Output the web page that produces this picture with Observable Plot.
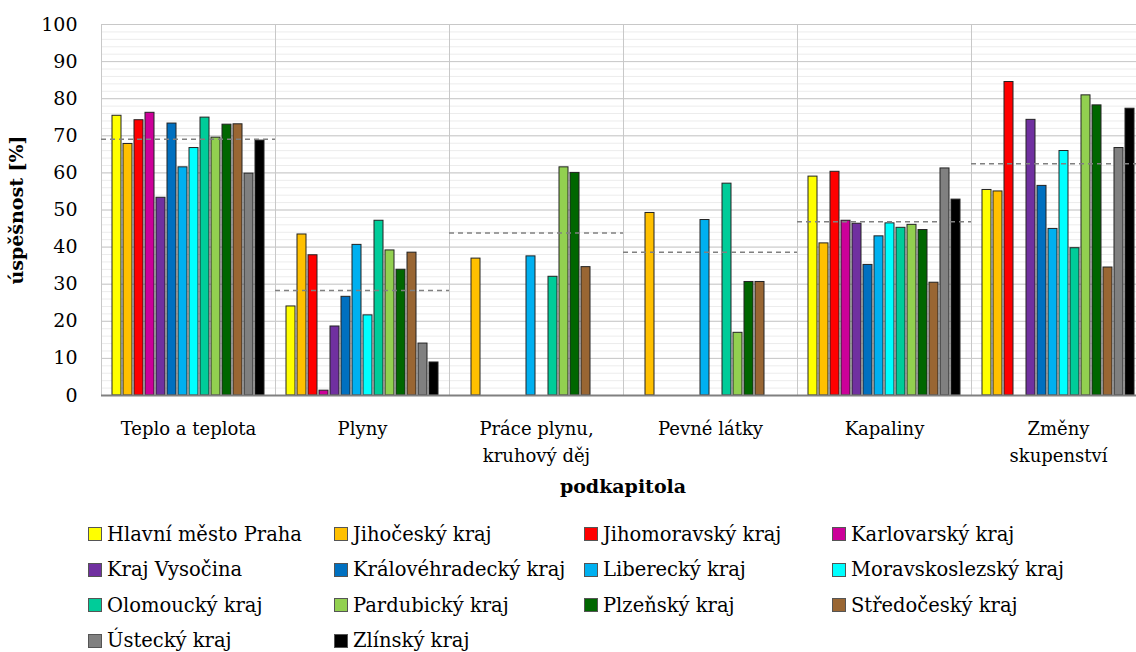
<!DOCTYPE html>
<html><head><meta charset="utf-8">
<script src="https://cdn.jsdelivr.net/npm/d3@7"></script>
<script src="https://cdn.jsdelivr.net/npm/@observablehq/plot@0.6"></script>
<style>
html,body{margin:0;padding:0;background:#fff;}
body{width:1136px;height:652px;overflow:hidden;position:relative;font-family:"DejaVu Serif",serif;color:#000;}
#chart{position:absolute;left:0;top:0;}
#chart svg{max-width:none;}
#xlabel{position:absolute;left:100px;width:1046px;text-align:center;top:474px;font-weight:bold;font-size:19px;line-height:24px;}
#legend{position:absolute;left:88px;top:520px;display:grid;grid-template-columns:246px 250px 248px 280px;grid-auto-rows:35.5px;font-size:19.5px;}
.item{display:flex;align-items:center;white-space:nowrap;height:28px;}
.sw{width:12px;height:12px;border:1px solid #555;margin-right:5px;flex:none;}
g[aria-label="y-axis label"] text{font-weight:bold;}
</style>
</head><body>
<div id="chart"></div>
<div id="xlabel">podkapitola</div>
<div id="legend"></div>
<script>
const categories = ["Teplo a teplota", "Plyny", "Práce plynu,\nkruhový děj", "Pevné látky", "Kapaliny", "Změny\nskupenství"];
const regions = ["Hlavní město Praha", "Jihočeský kraj", "Jihomoravský kraj", "Karlovarský kraj",
  "Kraj Vysočina", "Královéhradecký kraj", "Liberecký kraj", "Moravskoslezský kraj",
  "Olomoucký kraj", "Pardubický kraj", "Plzeňský kraj", "Středočeský kraj",
  "Ústecký kraj", "Zlínský kraj"];
const colors = ["#FFFF00", "#FFC000", "#FF0000", "#CC0099", "#7030A0", "#0070C0", "#00B0F0",
  "#00FFFF", "#00CC99", "#92D050", "#006600", "#996633", "#808080", "#000000"];
// success [%] per region, in the order of `regions`
const teploATeplota = [75.4, 67.8, 74.2, 76.2, 53.3, 73.3, 61.5, 66.7, 74.9, 69.5, 73.0, 73.1, 59.8, 68.7];
const plyny         = [24.0, 43.4, 37.8, 1.3, 18.6, 26.6, 40.6, 21.6, 47.1, 39.1, 33.9, 38.5, 14.0, 8.9];
const pracePlynu    = [null, 36.9, null, null, null, null, 37.5, null, 32.0, 61.5, 60.0, 34.6, null, null];
const pevneLatky    = [null, 49.2, null, null, null, null, 47.3, null, 57.1, 16.9, 30.6, 30.6, null, null];
const kapaliny      = [59.0, 41.0, 60.3, 47.1, 46.3, 35.2, 42.9, 46.4, 45.2, 46.0, 44.6, 30.4, 61.2, 52.8];
const zmenySkup     = [55.4, 55.0, 84.5, null, 74.3, 56.5, 44.9, 65.9, 39.7, 80.9, 78.2, 34.5, 66.7, 77.3];
const averages      = [69.1, 28.3, 43.8, 38.6, 46.8, 62.5];
const yTicks = [0, 10, 20, 30, 40, 50, 60, 70, 80, 90, 100];
const yMinor = d3.range(0, 101, 2);

const series = [teploATeplota, plyny, pracePlynu, pevneLatky, kapaliny, zmenySkup];
const rows = [];
series.forEach((vals, ci) => vals.forEach((v, ri) => {
  if (v != null) rows.push({cat: categories[ci], region: regions[ri], value: v});
}));
const avgRows = averages.map((a, i) => ({cat: categories[i], avg: a}));

const chart = Plot.plot({
  width: 1150,
  height: 470,
  marginLeft: 100,
  marginRight: 4,
  marginTop: 24,
  marginBottom: 75,
  style: {fontFamily: "'DejaVu Serif', serif", fontSize: "19px", color: "#000", background: "transparent"},
  fx: {domain: categories, padding: 0, label: null},
  x: {domain: regions, paddingInner: 0.2, paddingOuter: 0.9, axis: null},
  y: {domain: [0, 100], label: "úspěšnost [%]"},
  color: {domain: regions, range: colors},
  marks: [
    Plot.gridY(yMinor, {stroke: "#ececec", strokeOpacity: 1}),
    Plot.gridY(yTicks, {stroke: "#c8c8c8", strokeOpacity: 1}),
    Plot.frame({stroke: "#c8c8c8"}),
    Plot.barY(rows, {fx: "cat", x: "region", y: "value", fill: "region", stroke: "#222", strokeWidth: 1}),
    Plot.ruleY(avgRows, {fx: "cat", y: "avg", stroke: "#808080", strokeWidth: 1.5, strokeDasharray: "5,4"}),
    Plot.ruleY([0], {stroke: "#808080", strokeWidth: 2}),
    Plot.axisY({ticks: yTicks, tickSize: 0, tickPadding: 24, label: "úspěšnost [%]", labelAnchor: "center", labelArrow: "none", labelOffset: 92}),
    Plot.axisFx({anchor: "bottom", tickSize: 0, tickPadding: 20, label: null, fontSize: 18, lineHeight: 1.5})
  ]
});
document.getElementById("chart").appendChild(chart);

const legend = document.getElementById("legend");
regions.forEach((r, i) => {
  const it = document.createElement("div");
  it.className = "item";
  const sw = document.createElement("span");
  sw.className = "sw";
  sw.style.background = colors[i];
  it.appendChild(sw);
  it.appendChild(document.createTextNode(r));
  legend.appendChild(it);
});
</script>
</body></html>
